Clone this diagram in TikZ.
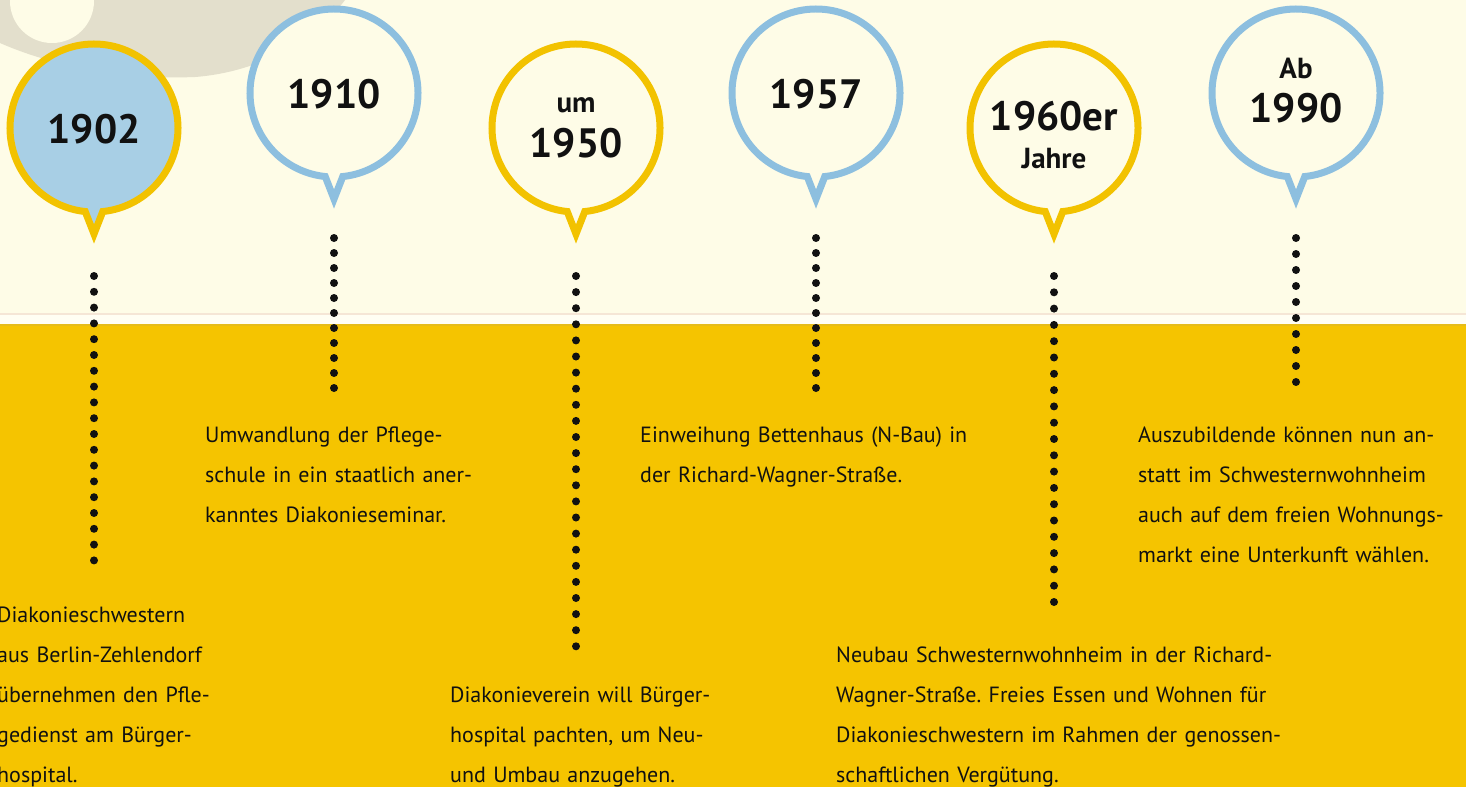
\documentclass[tikz,border=0pt]{standalone}
\usepackage{fontspec}
\setmainfont{PT Sans}
\frenchspacing
\definecolor{cream}{HTML}{FEFCE7}
\definecolor{creamlight}{HTML}{FFFEF3}
\definecolor{seam}{HTML}{F5E6D6}
\definecolor{yellowbg}{HTML}{F5C400}
\definecolor{yellowedge}{HTML}{E6BC18}
\definecolor{ringyellow}{HTML}{F2C200}
\definecolor{ringblue}{HTML}{8DBFDF}
\definecolor{fillblue}{HTML}{A8CFE5}
\definecolor{shadegray}{HTML}{E3DFCC}
\definecolor{ink}{HTML}{111111}

% speech bubble: #1 style, #2 centre x, #3 centre y (downwards), #4 name of tail tip
\newcommand\speechbubble[4]{%
  \path[#1] (#2,-#3) ++(-84:84) arc[start angle=-84, end angle=264, radius=84]
    -- (#2,-#3-106) -- cycle;
  \coordinate (#4) at (#2,-#3-117);}

\begin{document}
\begin{tikzpicture}[x=1pt,y=1pt,
  bubbleY/.style={draw=ringyellow, line width=7pt, fill=cream},
  bubbleB/.style={draw=ringblue, line width=7pt, fill=cream},
  yearlabel/.style={font=\bfseries\fontsize{41}{41}\selectfont, text=ink, inner sep=0pt, anchor=base},
  wordlabel/.style={font=\bfseries\fontsize{29}{29}\selectfont, text=ink, inner sep=0pt, anchor=base},
  bodytext/.style={font=\fontsize{22}{40}\selectfont, text=ink, inner sep=0pt,
    anchor=base west, text width=480pt, align=left},
  dotline/.style={draw=ink, line width=8pt, line cap=round, dash pattern=on 0pt off #1pt},
]
\useasboundingbox (0,0) rectangle (1466,-787);

% background: cream sky, yellow ground and the seam between them
\fill[cream] (0,0) rectangle (1466,-787);
\fill[yellowbg] (0,-325) rectangle (1466,-787);
\fill[creamlight] (0,-315) rectangle (1466,-324);
\draw[seam, line width=1.5pt] (0,-314) -- (1466,-314);
\draw[yellowedge, line width=2pt] (0,-325) -- (1466,-325);

% grey ring in the top-left corner
\fill[shadegray] (0,0) -- (0,-43) .. controls (50,-65) and (120,-80) .. (195,-77)
  .. controls (260,-72) and (315,-40) .. (345,0) -- cycle;
\fill[cream] (52,-1) circle (42);

% bubbles
\speechbubble{bubbleY, fill=fillblue}{94}{128}{t1}
\speechbubble{bubbleB}{334}{93}{t2}
\speechbubble{bubbleY}{576}{128}{t3}
\speechbubble{bubbleB}{816}{93}{t4}
\speechbubble{bubbleY}{1054}{128}{t5}
\speechbubble{bubbleB}{1296}{93}{t6}

% year labels
\node[yearlabel] (y1) at (94,-143) {1902};
\node[yearlabel] (y2) at (334,-108) {1910};
\node[wordlabel] (w3) at (576,-112) {um};
\node[yearlabel] (y3) at (576,-157) {1950};
\node[yearlabel] (y4) at (816,-108) {1957};
\node[yearlabel] (y5) at (1054,-130) {1960er};
\node[wordlabel] (w5) at (1054,-168) {Jahre};
\node[wordlabel] (w6) at (1296,-78) {Ab};
\node[yearlabel] (y6) at (1296,-122) {1990};

% dotted leaders (start, end, dot spacing)
\coordinate (a1) at (94,-276);   \coordinate (b1) at (94,-560.6);
\coordinate (a2) at (334,-238);  \coordinate (b2) at (334,-388.3);
\coordinate (a3) at (576,-276);  \coordinate (b3) at (576,-646.6);
\coordinate (a4) at (816,-238);  \coordinate (b4) at (816,-388.3);
\coordinate (a5) at (1054,-276); \coordinate (b5) at (1054,-602.3);
\coordinate (a6) at (1296,-238); \coordinate (b6) at (1296,-382.3);
\foreach \i/\s in {1/15.8, 2/15, 3/16.1, 4/15, 5/16.3, 6/16}
  \draw[dotline=\s] (a\i) -- (b\i);

% descriptions
\node[bodytext] (x1) at (-3,-622) {Diakonieschwestern\\aus Berlin-Zehlendorf\\übernehmen den Pfle-\\gedienst am Bürger-\\hospital.};
\node[bodytext] (x2) at (205,-442) {Umwandlung der Pflege-\\schule in ein staatlich aner-\\kanntes Diakonieseminar.};
\node[bodytext] (x3) at (450,-702) {Diakonieverein will Bürger-\\hospital pachten, um Neu-\\und Umbau anzugehen.};
\node[bodytext] (x4) at (640,-442) {Einweihung Bettenhaus (N-Bau) in\\der Richard-Wagner-Straße.};
\node[bodytext] (x5) at (836,-662) {Neubau Schwesternwohnheim in der Richard-\\Wagner-Straße. Freies Essen und Wohnen für\\Diakonieschwestern im Rahmen der genossen-\\schaftlichen Vergütung.};
\node[bodytext] (x6) at (1138,-442) {Auszubildende können nun an-\\statt im Schwesternwohnheim\\auch auf dem freien Wohnungs-\\markt eine Unterkunft wählen.};
\end{tikzpicture}
\end{document}
